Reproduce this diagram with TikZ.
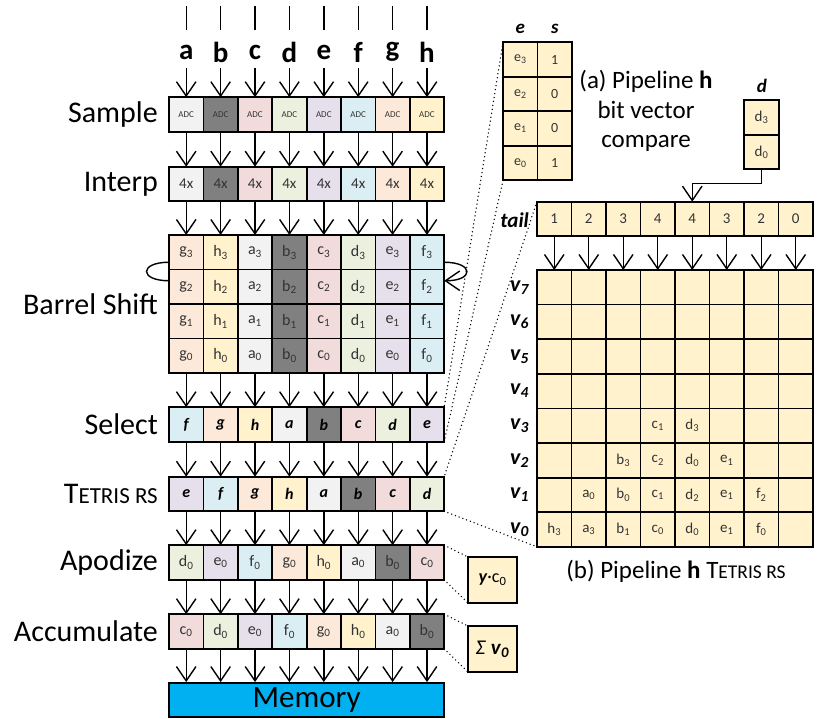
\documentclass[tikz,border=0pt]{standalone}
\usepackage{fontspec}
\setmainfont{Carlito}
\usetikzlibrary{arrows.meta,calc}
\definecolor{ca}{HTML}{F2F2F2}
\definecolor{cb}{HTML}{808080}
\definecolor{cc}{HTML}{F2DCDB}
\definecolor{cd}{HTML}{EBF1DE}
\definecolor{ce}{HTML}{E6E0EC}
\definecolor{cf}{HTML}{DBEEF4}
\definecolor{cg}{HTML}{FDE9D9}
\definecolor{ch}{HTML}{FFF2CC}
\definecolor{yel}{HTML}{FFF2CC}
\definecolor{memblue}{HTML}{00B0F0}
\definecolor{txt}{HTML}{333333}
\newcommand\fs[1]{\fontsize{#1}{#1}\selectfont}
\newcommand\bi[1]{\textbf{\textit{#1}}}
\begin{document}
\begin{tikzpicture}[x=1pt,y=-1pt,
  cell/.style={draw=black, line width=1.8pt, minimum width=34.4pt, minimum height=34.6pt,
    inner sep=0pt, outer sep=0pt, text=txt, font=\fs{16}},
  ycell/.style={cell, fill=yel, minimum width=34.5pt},
  arr/.style={line width=1.4pt, -{Straight Barb[length=11pt,width=15pt,line width=1.4pt,scale=1.3]}},
  lbl/.style={anchor=east, inner sep=0pt, font=\fs{30}},
  inl/.style={inner sep=0pt, font=\fs{29}\bfseries},
  hdr/.style={inner sep=0pt, font=\fs{19}\bfseries\itshape},
  dots/.style={line width=1.5pt, dash pattern=on 0pt off 4pt, line cap=round},
  captxt/.style={inner sep=0pt, font=\fontsize{25}{29.5}\selectfont, align=center}]
\useasboundingbox (0,0) rectangle (817,719);

% ---- inputs, sample, interp
\foreach \n [count=\i from 0] in {a,b,c,d,e,f,g,h} {
  \pgfmathsetmacro\xx{186.2+34.4*\i}
  \draw[line width=1.4pt] (\xx,6) -- (\xx,30);
  \node[inl] (in-\i) at (\xx,52) {\n};
  \coordinate (st-\i) at (\xx,68);
  \node[cell, fill=c\n, font=\fs{9}] (sa-\i) at (\xx,114.5) {ADC};
  \node[cell, fill=c\n, font=\fs{15}] (ip-\i) at (\xx,184) {4x};
  \draw[arr] (st-\i) -- (sa-\i.north);
  \draw[arr] (sa-\i.south) -- (ip-\i.north);
}

% ---- barrel shift
\foreach \n [count=\i from 0] in {g,h,a,b,c,d,e,f} {
  \pgfmathsetmacro\xx{186.2+34.4*\i}
  \foreach \r in {3,2,1,0} {
    \node[cell, fill=c\n, minimum height=34.5pt] (bs-\r-\i) at (\xx,{252.25+34.5*(3-\r)}) {\n\textsubscript{\r}};
  }
  \draw[arr] (ip-\i.south) -- (bs-3-\i.north);
}
\draw[line width=1.4pt] ([yshift=-10pt]bs-3-0.west) .. controls +(-30,0) and +(-30,0) .. ([yshift=6pt]bs-2-0.west);
\draw[arr] ([yshift=-10pt]bs-3-7.east) .. controls +(30,0) and +(30,0) .. ([yshift=6pt]bs-2-7.east);

% ---- select
\foreach \n [count=\i from 0] in {f,g,h,a,b,c,d,e} {
  \pgfmathsetmacro\xx{186.2+34.4*\i}
  \node[cell, fill=c\n, text=black, font=\fs{16}\bfseries\itshape] (se-\i) at (\xx,424.5) {\n};
  \draw[arr] (bs-0-\i.south) -- (se-\i.north);
}
% ---- tetris
\foreach \n [count=\i from 0] in {e,f,g,h,a,b,c,d} {
  \pgfmathsetmacro\xx{186.2+34.4*\i}
  \node[cell, fill=c\n, text=black, font=\fs{16}\bfseries\itshape] (tr-\i) at (\xx,494) {\n};
  \draw[arr] (se-\i.south) -- (tr-\i.north);
}
% ---- apodize
\foreach \n [count=\i from 0] in {d,e,f,g,h,a,b,c} {
  \pgfmathsetmacro\xx{186.2+34.4*\i}
  \node[cell, fill=c\n] (ap-\i) at (\xx,562.5) {\n\textsubscript{0}};
  \draw[arr] (tr-\i.south) -- (ap-\i.north);
}
% ---- accumulate
\foreach \n [count=\i from 0] in {c,d,e,f,g,h,a,b} {
  \pgfmathsetmacro\xx{186.2+34.4*\i}
  \node[cell, fill=c\n] (ac-\i) at (\xx,631.5) {\n\textsubscript{0}};
  \draw[arr] (ap-\i.south) -- (ac-\i.north);
}
% ---- memory
\node[draw=black, line width=1.8pt, fill=memblue, minimum width=275.2pt, minimum height=34pt,
  inner sep=0pt, font=\fs{31}] (mem) at (306.6,700) {Memory};
\foreach \i in {0,...,7} { \draw[arr] (ac-\i.south) -- (ac-\i.south |- mem.north); }

% ---- stage labels
\node[lbl] (l-sa) at (158,114.5) {Sample};
\node[lbl] (l-ip) at (158,184) {Interp};
\node[lbl] (l-bs) at (158,304) {Barrel Shift};
\node[lbl] (l-se) at (158,424.5) {Select};
\node[lbl] (l-tr) at (158,494) {T{\fs{23}ETRIS RS}};
\node[lbl] (l-ap) at (158,562.5) {Apodize};
\node[lbl] (l-ac) at (158,631.5) {Accumulate};

% ---- (a) e/s table
\node[hdr] (es-he) at (520.25,29) {e};
\node[hdr] (es-hs) at (554.75,29) {s};
\foreach \r/\b in {3/1,2/0,1/0,0/1} {
  \node[ycell, font=\fs{14}] (es-e-\r) at (520.25,{59.5+34.5*(3-\r)}) {e\textsubscript{\r}};
  \node[ycell, font=\fs{14}] (es-s-\r) at (554.75,{59.5+34.5*(3-\r)}) {\b};
}
\node[captxt] (capa) at (646,111) {(a) Pipeline \textbf{h}\\bit vector\\compare};

% ---- d table
\node[hdr] (dt-h) at (762,86) {d};
\node[ycell, font=\fs{15}] (dt-3) at (761.5,117.5) {d\textsubscript{3}};
\node[ycell, font=\fs{15}] (dt-0) at (761.5,152) {d\textsubscript{0}};

% ---- tail row and grid
\node[hdr, anchor=east, font=\fs{21}\bfseries\itshape] (tl) at (529,220) {tail};
\foreach \v [count=\i from 0] in {1,2,3,4,4,3,2,0} {
  \node[ycell, font=\fs{15}] (t-\i) at ({554.25+34.5*\i},219) {\v};
}
\draw[arr] (dt-0.south) -- ++(0,14) -| (t-4.north);
\foreach \k in {0,...,7} {
  \node[hdr, anchor=east, font=\fs{22}\bfseries\itshape] (vl-\k) at (529,{287.3+34.6*(7-\k)}) {v\textsubscript{\k}};
  \foreach \i in {0,...,7} {
    \node[ycell] (g-\k-\i) at ({554.25+34.5*\i},{287.3+34.6*(7-\k)}) {};
  }
}
\foreach \i in {0,...,7} { \draw[arr] (t-\i.south) -- (g-7-\i.north); }
\foreach \k/\i/\n/\s in {3/3/c/1, 3/4/d/3,
  2/2/b/3, 2/3/c/2, 2/4/d/0, 2/5/e/1,
  1/1/a/0, 1/2/b/0, 1/3/c/1, 1/4/d/2, 1/5/e/1, 1/6/f/2,
  0/0/h/3, 0/1/a/3, 0/2/b/1, 0/3/c/0, 0/4/d/0, 0/5/e/1, 0/6/f/0} {
  \node[inner sep=0pt, text=txt, font=\fs{15}] (gt-\k-\i) at (g-\k-\i) {\n\textsubscript{\s}};
}
\node[captxt] (capb) at (676,571) {(b) Pipeline \textbf{h} T{\fs{19.5}ETRIS RS}};

% ---- small boxes
\node[ycell, minimum width=49pt, minimum height=46pt, font=\fs{18}, text=black] (yc) at (492.5,580) {\bi{y}·c\textsubscript{0}};
\node[ycell, minimum width=49pt, minimum height=46pt, font=\fs{21}, text=black] (sv) at (492.5,649) {\textit{Σ} \bi{v}\textsubscript{\bi{0}}};

% ---- dotted guides
\draw[dots] (es-e-3.north west) -- (se-7.north east);
\draw[dots] (es-e-0.south west) -- (se-7.south east);
\draw[dots] (t-0.north west) -- (tr-7.north east);
\draw[dots] (tr-7.south east) -- (g-0-0.south west);
\draw[dots] (ap-7.north east) -- (yc.north west);
\draw[dots] (ap-7.south east) -- (yc.south west);
\draw[dots] (ac-7.north east) -- (sv.north west);
\draw[dots] (ac-7.south east) -- (sv.south west);
\end{tikzpicture}
\end{document}
